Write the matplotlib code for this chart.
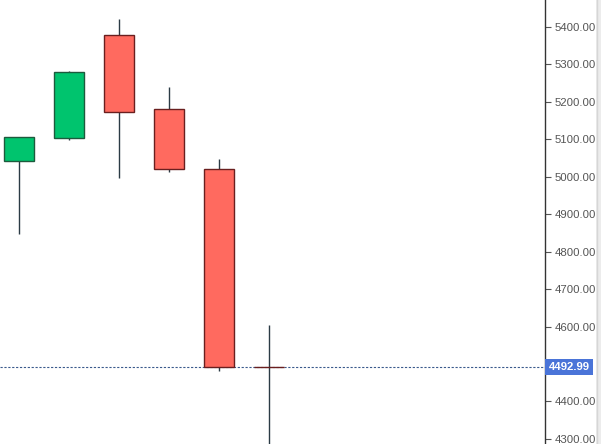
import matplotlib
matplotlib.use('Agg')
import matplotlib.pyplot as plt
from matplotlib.patches import Rectangle

# --- candle data ---
opens = [5041, 5103, 5379, 5180, 5020, 4493]
closes = [5105, 5280, 5172, 5020, 4492.99, 4492.99]
highs = [5105, 5283, 5421, 5240, 5048, 4604]
lows = [4846, 5097, 4998, 5012, 4481, 4270]
last_price = 4492.99
y_ticks = [4300, 4400, 4500, 4600, 4700, 4800, 4900, 5000, 5100, 5200, 5300, 5400]

up_color = '#00c46e'
up_edge = '#1d5a3d'
down_color = '#ff6a5f'
down_edge = '#6a1f1f'
wick_color = '#2b3b45'
label_font = ['Liberation Sans', 'DejaVu Sans']

fig = plt.figure(figsize=(6.01, 4.44), dpi=100)
ax = fig.add_axes([0, 0, 545 / 601, 1])

body_w = 0.6
for i, (o, c, h, l) in enumerate(zip(opens, closes, highs, lows)):
    ax.vlines(i, l, h, color=wick_color, linewidth=1, zorder=1)
    if o == c:
        ax.hlines(o, i - body_w / 2, i + body_w / 2, color=wick_color, linewidth=1.5, zorder=2)
        continue
    up = c > o
    ax.add_patch(Rectangle((i - body_w / 2, min(o, c)), body_w, abs(c - o),
                           facecolor=up_color if up else down_color,
                           edgecolor=up_edge if up else down_edge,
                           linewidth=1, zorder=2))

# --- last price line ---
ax.axhline(last_price, color='#3a5a8c', linewidth=0.8, linestyle=(0, (2, 1.5)), zorder=0)

ax.set_xlim(-0.38, 10.52)
ax.set_ylim(4286.5, 5472)

ax.yaxis.tick_right()
ax.set_yticks(y_ticks)
ax.set_yticklabels([f'{v:.2f}' if v != 4500 else '' for v in y_ticks],
                   fontfamily=label_font, fontsize=8.2, color='#555555')
ax.tick_params(axis='y', direction='out', length=4, width=0.8, color='#555555', pad=3)
ax.set_xticks([])
for side in ['top', 'left', 'bottom']:
    ax.spines[side].set_visible(False)
ax.spines['right'].set_color('#333333')
ax.spines['right'].set_linewidth(1)

# price tag on the axis
tag_h = 8 / 0.3745
tag_trans = ax.get_yaxis_transform()
ax.add_patch(Rectangle((1.0, last_price - tag_h), 48 / 545, 2 * tag_h, transform=tag_trans,
                       facecolor='#4a74d8', edgecolor='none', clip_on=False, zorder=4))
ax.text(1.0 + 24 / 545, last_price, f'{last_price:.2f}', transform=tag_trans,
        ha='center', va='center', fontsize=8.2, fontweight='bold', color='white',
        fontfamily=label_font, clip_on=False, zorder=5)

# grey strip at the right edge
fig.patches.append(Rectangle((596 / 601, 0), 5 / 601, 1, transform=fig.transFigure,
                             facecolor='#ececec', edgecolor='none'))
fig.lines.append(plt.Line2D([596.5 / 601, 596.5 / 601], [0, 1], transform=fig.transFigure,
                            color='#d6d6d6', linewidth=1))

fig.savefig('out.png', dpi=100)
